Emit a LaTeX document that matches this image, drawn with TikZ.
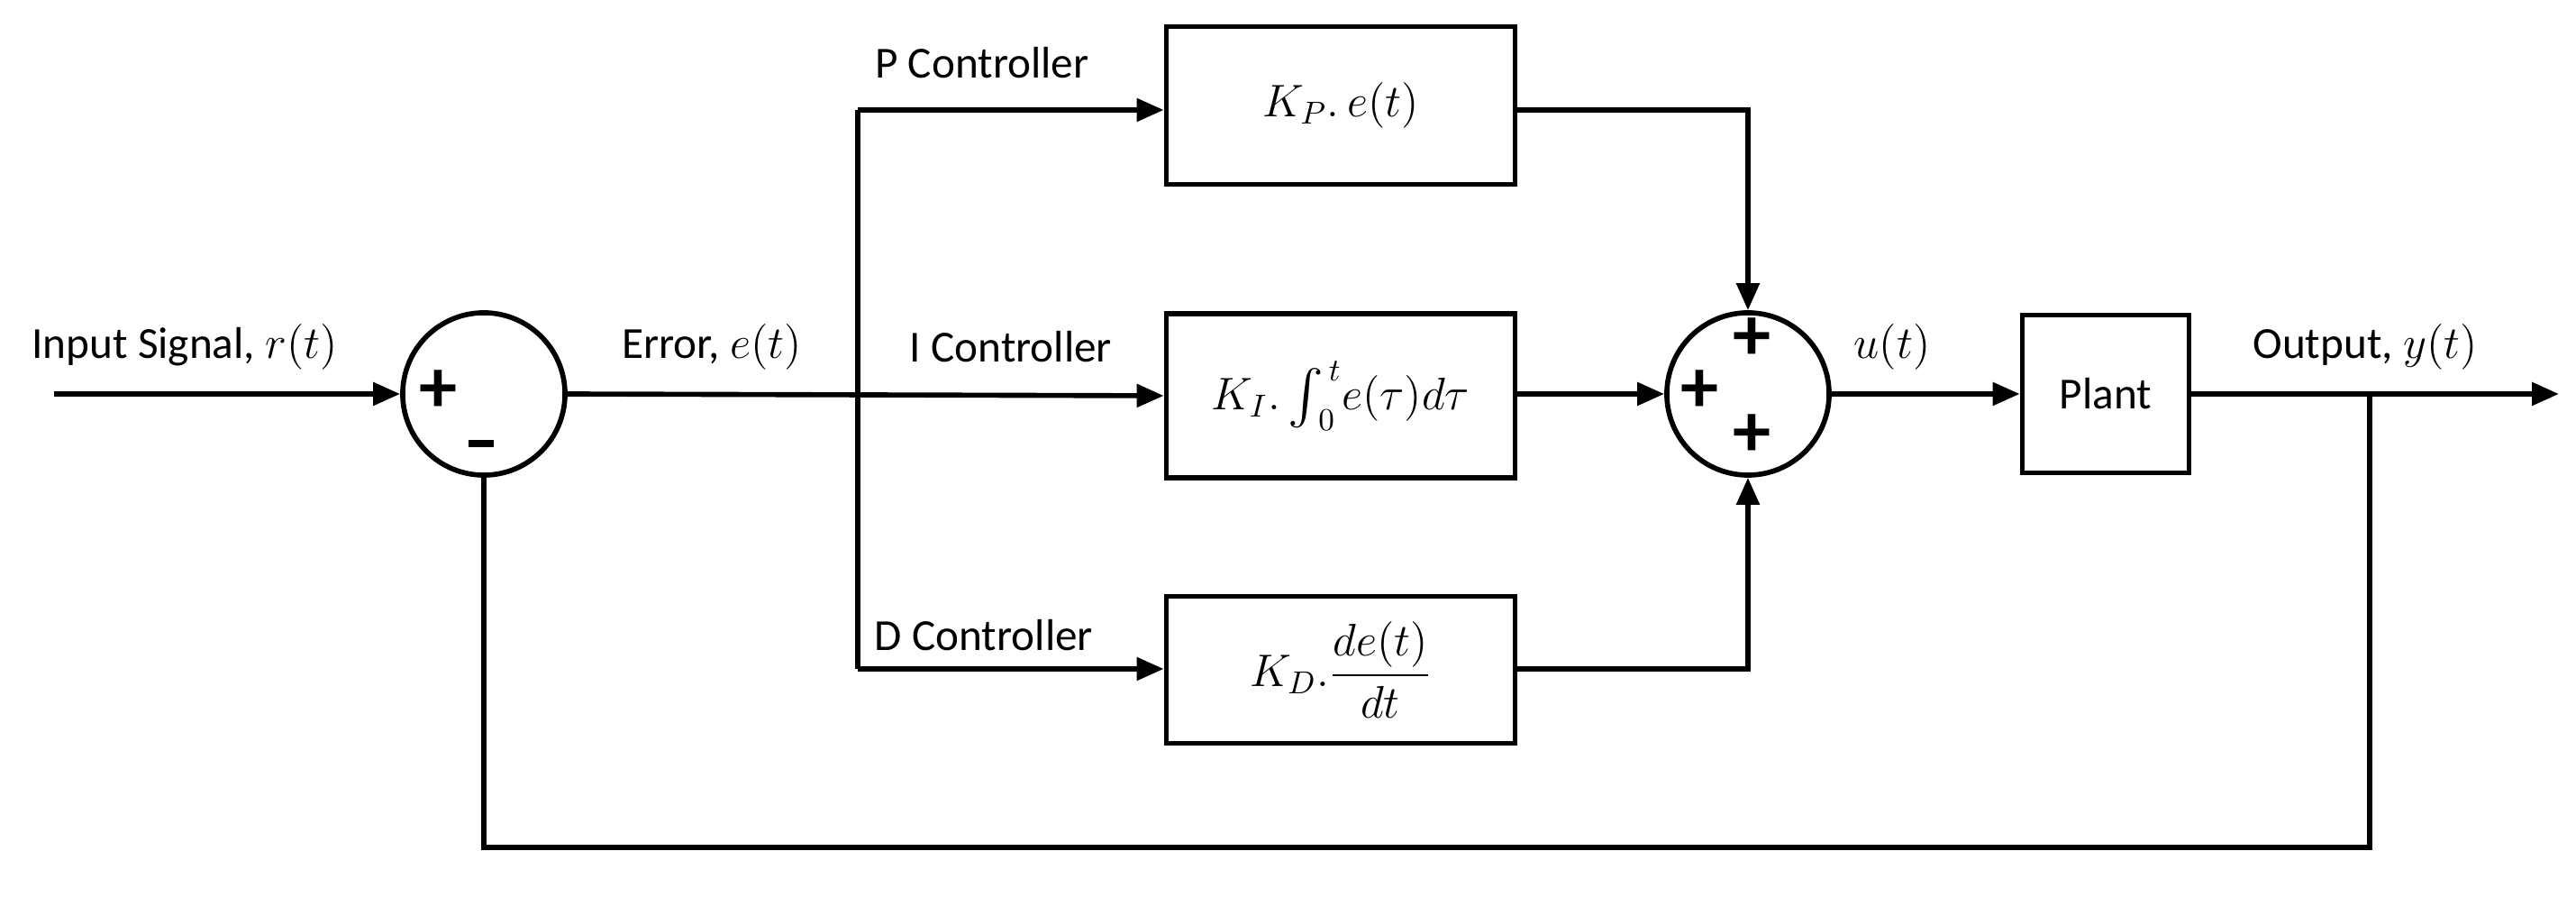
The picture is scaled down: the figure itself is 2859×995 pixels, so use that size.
\documentclass[tikz,border=0pt]{standalone}
\usepackage{fontspec}
\setmainfont{Carlito}
\usetikzlibrary{arrows.meta}
\begin{document}
\begin{tikzpicture}[x=0.01cm,y=-0.01cm,
  every node/.style={font=\fontsize{14}{17}\selectfont},
  blk/.style={draw,line width=1.6pt,inner sep=0pt},
  sum/.style={draw,circle,line width=1.6pt,minimum size=1.8cm,inner sep=0pt},
  sig/.style={line width=1.6pt},
  arr/.style={sig,-{Triangle[length=0.3cm,width=0.25cm]}},
  sgn/.style={font=\fontsize{24}{24}\selectfont\bfseries}]
\useasboundingbox (0,0) rectangle (2859,995);
\node[sum] (s1) at (537,437) {};
\node[sum] (s2) at (1940,437) {};
\node[blk,minimum width=3.87cm,minimum height=1.75cm] (P) at (1488,117) {$K_P.\,e(t)$};
\node[blk,minimum width=3.87cm,minimum height=1.82cm] (I) at (1488,439) {$K_I.\,\vcenter{\hbox{\scalebox{1.7}{$\int$}}}_{\!0}^{\,t} e(\tau)d\tau$};
\node[blk,minimum width=3.87cm,minimum height=1.63cm] (D) at (1488,743) {$K_D.\displaystyle\frac{de(t)}{dt}$};
\node[blk,minimum width=1.85cm,minimum height=1.75cm] (pl) at (2337,437) {Plant};
\coordinate (in) at (60,437);
\coordinate (bt) at (952,122);
\coordinate (bb) at (952,742);
\coordinate (out) at (2840,437);
\coordinate (fb) at (2630,437);
\coordinate (fb2) at (2630,940);
\coordinate (fb3) at (537,940);
\draw[arr] (in) -- (s1.west);
\draw[arr] (s1.east) -- (I.west);
\draw[sig] (bt) -- (bb);
\draw[arr] (bt) -- (P.west |- bt);
\draw[arr] (bb) -- (D.west |- bb);
\draw[arr] (P.east |- bt) -| (s2.north);
\draw[arr] (D.east |- bb) -| (s2.south);
\draw[arr] (I.east |- s2) -- (s2.west);
\draw[arr] (s2.east) -- (pl.west);
\draw[arr] (pl.east) -- (out);
\draw[sig] (fb) -- (fb2) -- (fb3) -- (s1.south);
\node[sgn] at (487,434) {+};
\node[sgn] at (534,492) {\rule{0.28cm}{2.5pt}};
\node[sgn] at (1945,376) {+};
\node[sgn] at (1887,434) {+};
\node[sgn] at (1945,483) {+};
\node (l1) at (205,385) {Input Signal, $r(t)$};
\node (l2) at (790,385) {Error, $e(t)$};
\node (l3) at (1090,70) {P Controller};
\node (l4) at (1122,385) {I Controller};
\node (l5) at (1092,705) {D Controller};
\node (l6) at (2100,385) {$u(t)$};
\node (l7) at (2625,385) {Output, $y(t)$};
\end{tikzpicture}
\end{document}
